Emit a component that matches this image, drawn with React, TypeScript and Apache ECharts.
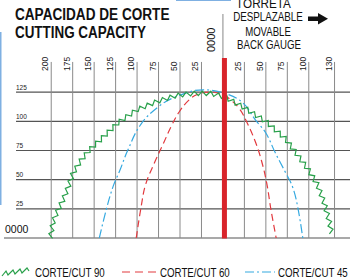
import React, { useEffect, useRef } from 'react';
import * as echarts from 'echarts';

// ---- axis ticks ----
const xTickValues = [-200, -175, -150, -125, -100, -75, -50, -25, 0, 25, 50, 75, 100, 130];
const xTickLabels = ['200', '175', '150', '125', '100', '75', '50', '25', '0000', '25', '50', '75', '100', '130'];
const yTickValues = [0, 25, 50, 75, 100, 125];
const yTickLabels = ['0000', '25', '50', '75', '100', '125'];

// ---- series (mm) ----
const cut90X = [-201, -198, -194, -186, -180, -175, -166, -155, -143, -122, -100, -77, -55, -35, -15, 2, 24, 50, 73, 86, 100, 110, 118, 124, 127];
const cut90Y = [0, 13, 21, 33, 44, 55, 66, 76, 84, 99, 110, 117, 122, 124, 124, 121, 112, 100, 85, 72, 58, 46, 30, 14, 2];
const cut60X = [-101, -95, -90, -80, -70, -60, -51, -40, -30, -15, 0, 8, 19, 28, 38, 45, 51, 56, 62];
const cut60Y = [0, 28, 46, 64, 80, 96, 108, 118, 123, 125, 123, 119, 111, 99, 82, 66, 47, 24, 0];
const cut45X = [-144, -136, -128, -120, -111, -96, -76, -55, -23, 2, 23, 38, 50, 61, 73, 81, 87, 93];
const cut45Y = [0, 24, 44, 58, 75, 97, 112, 121, 127, 124, 116, 101, 90, 73, 56, 44, 27, 0];

const GREEN = '#28a04a';
const RED = '#e23a3f';
const BLUE = '#35a9e0';
const BAR_RED = '#d8242b';
const FONT = 'Liberation Sans';

const X_MIN = -255;
const X_MAX = 148;
const Y_MAX = 192;
const V_TOP = 150.9; // top of vertical grid lines
const H_LEFT = -241; // left start of horizontal lines (except 0)

function zigzag(pts: number[][], half: number, amp: number) {
  const segs: { l: number; dx: number; dy: number; p: number[] }[] = [];
  let total = 0;
  for (let i = 1; i < pts.length; i++) {
    const dx = pts[i][0] - pts[i - 1][0];
    const dy = pts[i][1] - pts[i - 1][1];
    const l = Math.hypot(dx, dy);
    segs.push({ l, dx, dy, p: pts[i - 1] });
    total += l;
  }
  const out: number[][] = [];
  let k = 0;
  for (let s = 0; s <= total; s += half, k++) {
    let acc = 0;
    let j = 0;
    while (j < segs.length - 1 && acc + segs[j].l < s) {
      acc += segs[j].l;
      j++;
    }
    const sg = segs[j];
    const t = sg.l ? (s - acc) / sg.l : 0;
    const x = sg.p[0] + sg.dx * t;
    const y = sg.p[1] + sg.dy * t;
    const nx = sg.l ? -sg.dy / sg.l : 0;
    const ny = sg.l ? sg.dx / sg.l : 0;
    const o = (k % 2 === 0 ? 1 : -1) * amp;
    out.push([x + nx * o, y + ny * o]);
  }
  return out;
}

function txt(text: string, x: number, y: number, size: number, scaleX: number, opts: any = {}) {
  return {
    type: 'text',
    x,
    y,
    scaleX,
    style: {
      text,
      fontSize: size,
      fontFamily: FONT,
      fontWeight: opts.bold ? 'bold' : 'normal',
      fill: '#111',
      align: opts.align || 'left',
      textAlign: opts.align || 'left',
      verticalAlign: 'middle',
      textVerticalAlign: 'middle',
    },
  };
}

export default function App() {
  const ref = useRef<HTMLDivElement>(null);
  useEffect(() => {
    if (!ref.current) return;
    const chart = echarts.init(ref.current, undefined, { renderer: 'svg' });
    const option: any = {
      animation: false,
      backgroundColor: '#fff',
      grid: { left: 4, right: 0, top: 14, bottom: 42 },
      xAxis: {
        type: 'value',
        position: 'top',
        min: X_MIN,
        max: X_MAX,
        offset: -57,
        axisLine: { show: false },
        axisTick: { show: false },
        splitLine: { show: false },
        axisLabel: {
          customValues: xTickValues,
          rotate: 90,
          margin: 0,
          verticalAlign: 'bottom',
          color: '#222',
          fontFamily: FONT,
          formatter: (v: number) => {
            const i = xTickValues.indexOf(v);
            if (i < 0) return '';
            return v === 0 ? `{z|${xTickLabels[i]}}` : `{n|${xTickLabels[i]}}`;
          },
          rich: {
            n: { fontSize: 8.5, lineHeight: 12, fontFamily: FONT, color: '#222' },
            z: { fontSize: 11, lineHeight: 23, fontFamily: FONT, color: '#111', padding: [0, 0, 0, 19] },
          },
        },
      },
      yAxis: {
        type: 'value',
        min: 0,
        max: Y_MAX,
        interval: 25,
        axisLine: { show: false },
        axisTick: { show: false },
        splitLine: { show: false },
        axisLabel: {
          inside: true,
          margin: 0,
          showMaxLabel: false,
          verticalAlign: 'bottom',
          formatter: (v: number) => {
            const i = yTickValues.indexOf(v);
            if (i < 0) return '';
            return v === 0 ? `{z|${yTickLabels[i]}}` : `{n|${yTickLabels[i]}}`;
          },
          rich: {
            n: { fontSize: 6.5, fontFamily: FONT, color: '#222', padding: [0, 0, 1.5, 12] },
            z: { fontSize: 10.5, fontFamily: FONT, color: '#111', padding: [0, 0, 3.5, 1] },
          },
        },
      },
      series: [
        {
          type: 'custom',
          name: 'hlines',
          z: 1,
          silent: true,
          data: yTickValues.map((v) => [v, 0]),
          renderItem: (params: any, api: any) => {
            const v = api.value(0);
            const p0 = api.coord([v === 0 ? X_MIN : H_LEFT, v]);
            const p1 = api.coord([X_MAX, v]);
            return {
              type: 'line',
              shape: { x1: p0[0], y1: p0[1], x2: p1[0], y2: p1[1] },
              style: { stroke: '#555', lineWidth: 1.1 },
            };
          },
        },
        {
          type: 'custom',
          name: 'vlines',
          z: 1,
          silent: true,
          data: xTickValues.map((v) => [v, 0]),
          renderItem: (params: any, api: any) => {
            const v = api.value(0);
            const p0 = api.coord([v, 0]);
            const p1 = api.coord([v, V_TOP]);
            return {
              type: 'line',
              shape: { x1: p0[0], y1: p0[1], x2: p1[0], y2: p1[1] },
              style: { stroke: '#8a8a8a', lineWidth: 1 },
            };
          },
        },
        {
          type: 'line',
          name: 'CORTE/CUT 45',
          z: 3,
          symbol: 'none',
          smooth: 0.4,
          data: cut45X.map((x, i) => [x, cut45Y[i]]),
          lineStyle: { color: BLUE, width: 1.2, type: [9, 3, 2, 3] },
        },
        {
          type: 'line',
          name: 'CORTE/CUT 60',
          z: 3,
          symbol: 'none',
          smooth: 0.4,
          data: cut60X.map((x, i) => [x, cut60Y[i]]),
          lineStyle: { color: RED, width: 1.2, type: [7, 4] },
        },
        {
          type: 'custom',
          name: 'CORTE/CUT 90',
          z: 4,
          silent: true,
          data: cut90X.map((x, i) => [x, cut90Y[i]]),
          renderItem: (params: any, api: any) => {
            if (params.dataIndex !== 0) return { type: 'group', children: [] };
            const pts = cut90X.map((x, i) => api.coord([x, cut90Y[i]]));
            return {
              type: 'polyline',
              shape: { points: zigzag(pts, 4, 2.2) },
              style: { stroke: GREEN, lineWidth: 1.2, fill: 'none' },
            };
          },
        },
        {
          type: 'custom',
          name: 'gauge',
          z: 6,
          silent: true,
          data: [[0, 0]],
          renderItem: (params: any, api: any) => {
            const v = api.value(0);
            const p0 = api.coord([v, 0]);
            const p1 = api.coord([v, 154.3]);
            const p2 = api.coord([v, Y_MAX]);
            return {
              type: 'group',
              children: [
                {
                  type: 'line',
                  shape: { x1: p1[0], y1: p1[1], x2: p2[0], y2: p2[1] },
                  style: { stroke: '#888', lineWidth: 1 },
                },
                {
                  type: 'line',
                  shape: { x1: p0[0] + 1.5, y1: p0[1] + 0.5, x2: p1[0] + 1.5, y2: p1[1] },
                  style: { stroke: BAR_RED, lineWidth: 5 },
                },
              ],
            };
          },
        },
      ],
      graphic: [
        // frame remnants
        { type: 'line', shape: { x1: 0.75, y1: 32, x2: 0.75, y2: 205 }, style: { stroke: '#7fb0e2', lineWidth: 1.5 } },
        { type: 'line', shape: { x1: 176, y1: 0.5, x2: 231, y2: 0.5 }, style: { stroke: '#7fb0e2', lineWidth: 1.2 } },
        // titles
        txt('CAPACIDAD DE CORTE', 15, 14, 17, 0.8, { bold: true }),
        txt('CUTTING CAPACITY', 15, 31.5, 17, 0.79, { bold: true }),
        // back gauge
        txt('TORRETA', 263.5, 4, 13, 0.9, { align: 'center' }),
        txt('DESPLAZABLE', 268, 16.8, 13, 0.755, { align: 'center' }),
        txt('MOVABLE', 268, 31.6, 13, 0.74, { align: 'center' }),
        txt('BACK GAUGE', 269, 44, 13, 0.745, { align: 'center' }),
        {
          type: 'polygon',
          shape: { points: [[308, 16.5], [318, 16.5], [318, 13], [328, 18.8], [318, 24.5], [318, 21], [308, 21]] },
          style: { fill: '#111' },
        },
        // legend
        {
          type: 'polyline',
          shape: { points: [[2, 276], [6, 271], [8, 275], [13, 270], [15, 274], [20, 269], [22, 273], [27, 268], [29, 271]] },
          style: { stroke: GREEN, lineWidth: 1.2, fill: 'none' },
        },
        txt('CORTE/CUT 90', 35, 272.5, 12, 0.81),
        { type: 'line', shape: { x1: 122, y1: 272, x2: 156, y2: 272 }, style: { stroke: RED, lineWidth: 1.2, lineDash: [8, 5] } },
        txt('CORTE/CUT 60', 160, 272.5, 12, 0.81),
        { type: 'line', shape: { x1: 245, y1: 272, x2: 275, y2: 272 }, style: { stroke: BLUE, lineWidth: 1.2, lineDash: [9, 3, 2, 3] } },
        txt('CORTE/CUT 45', 278, 272.5, 12, 0.81),
      ],
    };
    chart.setOption(option);
    return () => chart.dispose();
  }, []);
  return <div ref={ref} style={{ position: 'fixed', left: 0, top: 0, width: 350, height: 280 }} />;
}
